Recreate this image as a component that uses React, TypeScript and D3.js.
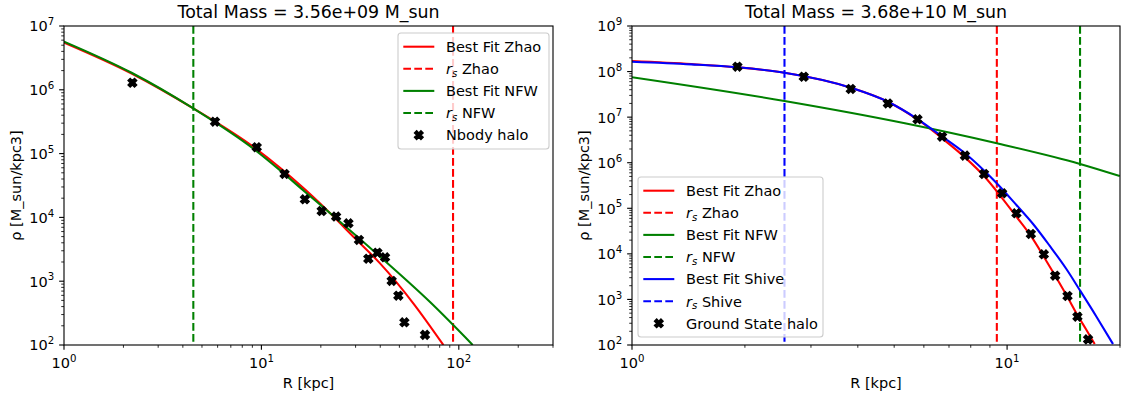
import React from 'react';
import * as d3 from 'd3';

// ---------- data: left panel (N-body halo) ----------
const leftTitle = 'Total Mass = 3.56e+09 M_sun';
const leftXDomain: [number, number] = [1, 300];
const leftYDomain: [number, number] = [1e2, 1e7];
const leftXExps = [0, 1, 2];
const leftYExps = [2, 3, 4, 5, 6, 7];

const nbodyR = [2.22, 5.82, 9.47, 13.1, 16.6, 20.2, 23.9, 27.6, 31.2, 34.8, 38.7, 42.3, 45.7, 49.4, 53.0, 67.4];
const nbodyRho = [1.29e6, 3.16e5, 1.26e5, 4.8e4, 1.92e4, 1.26e4, 1.03e4, 8070, 4430, 2250, 2800, 2370, 1010, 593, 227, 144];

const zhaoLeftR = [1.0, 2.2, 4.52, 9.28, 16.6, 22.3, 29.8, 39.9, 58.8, 83.5];
const zhaoLeftRho = [5.5e6, 1.8e6, 5.1e5, 1.22e5, 2.75e4, 1.16e4, 4700, 1900, 450, 100];
const nfwLeftR = [1.0, 2.2, 4.52, 9.28, 12.4, 16.6, 22.3, 39.9, 71.5, 117.6];
const nfwLeftRho = [5.7e6, 1.85e6, 5.1e5, 1.14e5, 5.5e4, 2.53e4, 1.16e4, 2420, 470, 100];
const rsZhaoLeft = 93.5;
const rsNfwLeft = 4.52;

// ---------- data: right panel (ground state halo) ----------
const rightTitle = 'Total Mass = 3.68e+10 M_sun';
const rightXDomain: [number, number] = [1, 20];
const rightYDomain: [number, number] = [1e2, 1e9];
const rightXExps = [0, 1];
const rightYExps = [2, 3, 4, 5, 6, 7, 8, 9];

const groundR = [1.91, 2.87, 3.83, 4.81, 5.77, 6.71, 7.72, 8.68, 9.7, 10.59, 11.57, 12.53, 13.43, 14.49, 15.4, 16.44];
const groundRho = [1.28e8, 7.7e7, 4.15e7, 2.0e7, 8.96e6, 3.72e6, 1.43e6, 5.65e5, 2.13e5, 7.76e4, 2.73e4, 9770, 3320, 1190, 418, 133];

const zhaoRightR = [1.0, 1.44, 1.91, 2.55, 3.83, 4.81, 5.77, 6.71, 7.72, 8.68, 9.56, 10.59, 11.61, 12.53, 13.4, 14.39, 15.4, 16.28, 17.13];
const zhaoRightRho = [1.7e8, 1.46e8, 1.24e8, 9.44e7, 4.43e7, 2.18e7, 8.87e6, 3.44e6, 1.31e6, 5.1e5, 1.95e5, 6.53e4, 2.38e4, 8670, 3440, 1250, 455, 213, 105];
const nfwRightR = [1.0, 2.55, 5.34, 9.39, 15.65, 19.97];
const nfwRightRho = [7.5e7, 2.26e7, 7.33e6, 2.67e6, 9.4e5, 5.1e5];
const shiveRightR = [1.0, 1.44, 1.91, 2.55, 3.83, 4.81, 5.77, 6.71, 7.72, 8.68, 9.37, 10.59, 11.73, 13.0, 14.39, 15.62, 17.31, 19.16];
const shiveRightRho = [1.65e8, 1.44e8, 1.24e8, 9.44e7, 4.43e7, 2.18e7, 9.1e6, 3.76e6, 1.61e6, 6.75e5, 3.59e5, 1.18e5, 4.52e4, 1.49e4, 4650, 1610, 418, 105];
const rsZhaoRight = 9.39;
const rsNfwRight = 15.65;
const rsShiveRight = 2.55;

// ---------- styling ----------
const FONT = "'DejaVu Sans', 'Liberation Sans', sans-serif";
const TICK_FS = 14.5;
const SUP_FS = 10.2;
const TITLE_FS = 17.4;
const LW = 2.08;
const DASH = '7.7,3.3';
const TOP = 26;
const BOTTOM = 345;
const MARKER = 8.6;

type Item =
  | { kind: 'curve'; r: number[]; rho: number[]; color: string }
  | { kind: 'vline'; r: number; color: string };

type LegendEntry = { kind: 'line' | 'dash' | 'marker'; color: string; label: string; rs?: boolean };

// filled "X" marker outline (unit size)
const xVerts = [
  [-1, -2], [0, -1], [1, -2], [2, -1], [1, 0], [2, 1],
  [1, 2], [0, 1], [-1, 2], [-2, 1], [-1, 0], [-2, -1],
];
const xMarkerPath = (s: number) =>
  'M' + xVerts.map(([a, b]) => `${(a / 4) * s},${(b / 4) * s}`).join('L') + 'Z';

function PowLabel({ x, y, exp, anchor }: { x: number; y: number; exp: number; anchor: 'middle' | 'end' }) {
  return (
    <text x={x} y={y} textAnchor={anchor} fontSize={TICK_FS} fontFamily={FONT} fill="#000">
      10
      <tspan dy={-6.3} fontSize={SUP_FS}>{exp}</tspan>
    </text>
  );
}

function Marker({ cx, cy }: { cx: number; cy: number }) {
  return (
    <path
      d={xMarkerPath(MARKER)}
      transform={`translate(${cx},${cy})`}
      fill="#000"
      stroke="#000"
      strokeWidth={1.39}
      strokeLinejoin="miter"
    />
  );
}

function Panel(props: {
  id: string;
  x0: number;
  x1: number;
  xDomain: [number, number];
  yDomain: [number, number];
  title: string;
  items: Item[];
  ptsR: number[];
  ptsRho: number[];
  xExps: number[];
  yExps: number[];
  legend: { x: number; y: number; w: number; h: number; entries: LegendEntry[] };
}) {
  const { id, x0, x1, xDomain, yDomain, title, items, ptsR, ptsRho, xExps, yExps, legend } = props;
  const x = d3.scaleLog().domain(xDomain).range([x0, x1]);
  const y = d3.scaleLog().domain(yDomain).range([BOTTOM, TOP]);
  const line = d3
    .line<[number, number]>()
    .x((d) => x(d[0]))
    .y((d) => y(d[1]))
    .curve(d3.curveMonotoneX);

  const isMajor = (t: number) => Math.abs(Math.log10(t) - Math.round(Math.log10(t))) < 1e-9;
  const xMinor = x.ticks().filter((t) => !isMajor(t) && t >= xDomain[0] && t <= xDomain[1]);
  const yMinor = y.ticks().filter((t) => !isMajor(t) && t >= yDomain[0] && t <= yDomain[1]);
  const cx = (x0 + x1) / 2;
  const cy = (TOP + BOTTOM) / 2;

  return (
    <g>
      <defs>
        <clipPath id={`clip-${id}`}>
          <rect x={x0} y={TOP} width={x1 - x0} height={BOTTOM - TOP} />
        </clipPath>
      </defs>
      <g clipPath={`url(#clip-${id})`}>
        {items.map((it, i) =>
          it.kind === 'curve' ? (
            <path
              key={i}
              d={line(it.r.map((r, j) => [r, it.rho[j]] as [number, number])) || ''}
              fill="none"
              stroke={it.color}
              strokeWidth={LW}
            />
          ) : (
            <line
              key={i}
              x1={x(it.r)}
              x2={x(it.r)}
              y1={TOP}
              y2={BOTTOM}
              stroke={it.color}
              strokeWidth={LW}
              strokeDasharray={DASH}
            />
          )
        )}
        {ptsR.map((r, i) => (
          <Marker key={i} cx={x(r)} cy={y(ptsRho[i])} />
        ))}
      </g>

      {/* ticks */}
      {xMinor.map((t, i) => (
        <line key={'xm' + i} x1={x(t)} x2={x(t)} y1={BOTTOM} y2={BOTTOM + 2.78} stroke="#000" strokeWidth={0.83} />
      ))}
      {yMinor.map((t, i) => (
        <line key={'ym' + i} x1={x0} x2={x0 - 2.78} y1={y(t)} y2={y(t)} stroke="#000" strokeWidth={0.83} />
      ))}
      {xExps.map((e) => (
        <g key={'xM' + e}>
          <line x1={x(10 ** e)} x2={x(10 ** e)} y1={BOTTOM} y2={BOTTOM + 4.86} stroke="#000" strokeWidth={1.11} />
          <PowLabel x={x(10 ** e)} y={BOTTOM + 23} exp={e} anchor="middle" />
        </g>
      ))}
      {yExps.map((e) => (
        <g key={'yM' + e}>
          <line x1={x0} x2={x0 - 4.86} y1={y(10 ** e)} y2={y(10 ** e)} stroke="#000" strokeWidth={1.11} />
          <PowLabel x={x0 - 9.7} y={y(10 ** e) + 5.4} exp={e} anchor="end" />
        </g>
      ))}

      {/* spines */}
      <rect x={x0} y={TOP} width={x1 - x0} height={BOTTOM - TOP} fill="none" stroke="#000" strokeWidth={1.11} />

      {/* labels */}
      <text x={cx} y={18} textAnchor="middle" fontSize={TITLE_FS} fontFamily={FONT}>
        {title}
      </text>
      <text x={cx} y={387.5} textAnchor="middle" fontSize={TICK_FS} fontFamily={FONT}>
        R [kpc]
      </text>
      <text
        transform={`translate(${x0 - 43},${cy}) rotate(-90)`}
        textAnchor="middle"
        fontSize={TICK_FS}
        fontFamily={FONT}
      >
        ρ [M_sun/kpc3]
      </text>

      {/* legend */}
      <g>
        <rect
          x={legend.x}
          y={legend.y}
          width={legend.w}
          height={legend.h}
          rx={3}
          fill="#fff"
          fillOpacity={0.8}
          stroke="#cccccc"
          strokeWidth={1.1}
        />
        {legend.entries.map((en, i) => {
          const ry = legend.y + 13.7 + i * 22.1;
          const hx0 = legend.x + 5.3;
          const hx1 = hx0 + 31;
          const tx = legend.x + 48;
          return (
            <g key={i}>
              {en.kind === 'marker' ? (
                <Marker cx={(hx0 + hx1) / 2} cy={ry} />
              ) : (
                <line
                  x1={hx0}
                  x2={hx1}
                  y1={ry}
                  y2={ry}
                  stroke={en.color}
                  strokeWidth={LW}
                  strokeDasharray={en.kind === 'dash' ? DASH : undefined}
                />
              )}
              <text x={tx} y={ry + 5.3} fontSize={TICK_FS} fontFamily={FONT} style={{ whiteSpace: 'pre' }}>
                {en.rs ? (
                  <>
                    <tspan fontStyle="italic">r</tspan>
                    <tspan fontStyle="italic" fontSize={SUP_FS} dy={2.7}>s</tspan>
                    <tspan dy={-2.7}>{' ' + en.label}</tspan>
                  </>
                ) : (
                  en.label
                )}
              </text>
            </g>
          );
        })}
      </g>
    </g>
  );
}

export default function App() {
  React.useEffect(() => {
    document.body.style.margin = '0';
  }, []);

  const leftItems: Item[] = [
    { kind: 'curve', r: zhaoLeftR, rho: zhaoLeftRho, color: 'red' },
    { kind: 'vline', r: rsZhaoLeft, color: 'red' },
    { kind: 'curve', r: nfwLeftR, rho: nfwLeftRho, color: 'green' },
    { kind: 'vline', r: rsNfwLeft, color: 'green' },
  ];
  const rightItems: Item[] = [
    { kind: 'curve', r: zhaoRightR, rho: zhaoRightRho, color: 'red' },
    { kind: 'vline', r: rsZhaoRight, color: 'red' },
    { kind: 'curve', r: nfwRightR, rho: nfwRightRho, color: 'green' },
    { kind: 'vline', r: rsNfwRight, color: 'green' },
    { kind: 'curve', r: shiveRightR, rho: shiveRightRho, color: 'blue' },
    { kind: 'vline', r: rsShiveRight, color: 'blue' },
  ];

  const leftLegend: LegendEntry[] = [
    { kind: 'line', color: 'red', label: 'Best Fit Zhao' },
    { kind: 'dash', color: 'red', label: 'Zhao', rs: true },
    { kind: 'line', color: 'green', label: 'Best Fit NFW' },
    { kind: 'dash', color: 'green', label: 'NFW', rs: true },
    { kind: 'marker', color: '#000', label: 'Nbody halo' },
  ];
  const rightLegend: LegendEntry[] = [
    { kind: 'line', color: 'red', label: 'Best Fit Zhao' },
    { kind: 'dash', color: 'red', label: 'Zhao', rs: true },
    { kind: 'line', color: 'green', label: 'Best Fit NFW' },
    { kind: 'dash', color: 'green', label: 'NFW', rs: true },
    { kind: 'line', color: 'blue', label: 'Best Fit Shive' },
    { kind: 'dash', color: 'blue', label: 'Shive', rs: true },
    { kind: 'marker', color: '#000', label: 'Ground State halo' },
  ];

  return (
    <svg
      width={1121}
      height={397}
      viewBox="0 0 1121 397"
      style={{ position: 'absolute', left: 0, top: 0, display: 'block', background: '#fff' }}
      fontFamily={FONT}
    >
      <rect x={0} y={0} width={1121} height={397} fill="#fff" />
      <Panel
        id="left"
        x0={64}
        x1={553}
        xDomain={leftXDomain}
        yDomain={leftYDomain}
        title={leftTitle}
        items={leftItems}
        ptsR={nbodyR}
        ptsRho={nbodyRho}
        xExps={leftXExps}
        yExps={leftYExps}
        legend={{ x: 398, y: 33, w: 151, h: 116, entries: leftLegend }}
      />
      <Panel
        id="right"
        x0={632}
        x1={1120}
        xDomain={rightXDomain}
        yDomain={rightYDomain}
        title={rightTitle}
        items={rightItems}
        ptsR={groundR}
        ptsRho={groundRho}
        xExps={rightXExps}
        yExps={rightYExps}
        legend={{ x: 638, y: 177, w: 185, h: 160, entries: rightLegend }}
      />
    </svg>
  );
}
